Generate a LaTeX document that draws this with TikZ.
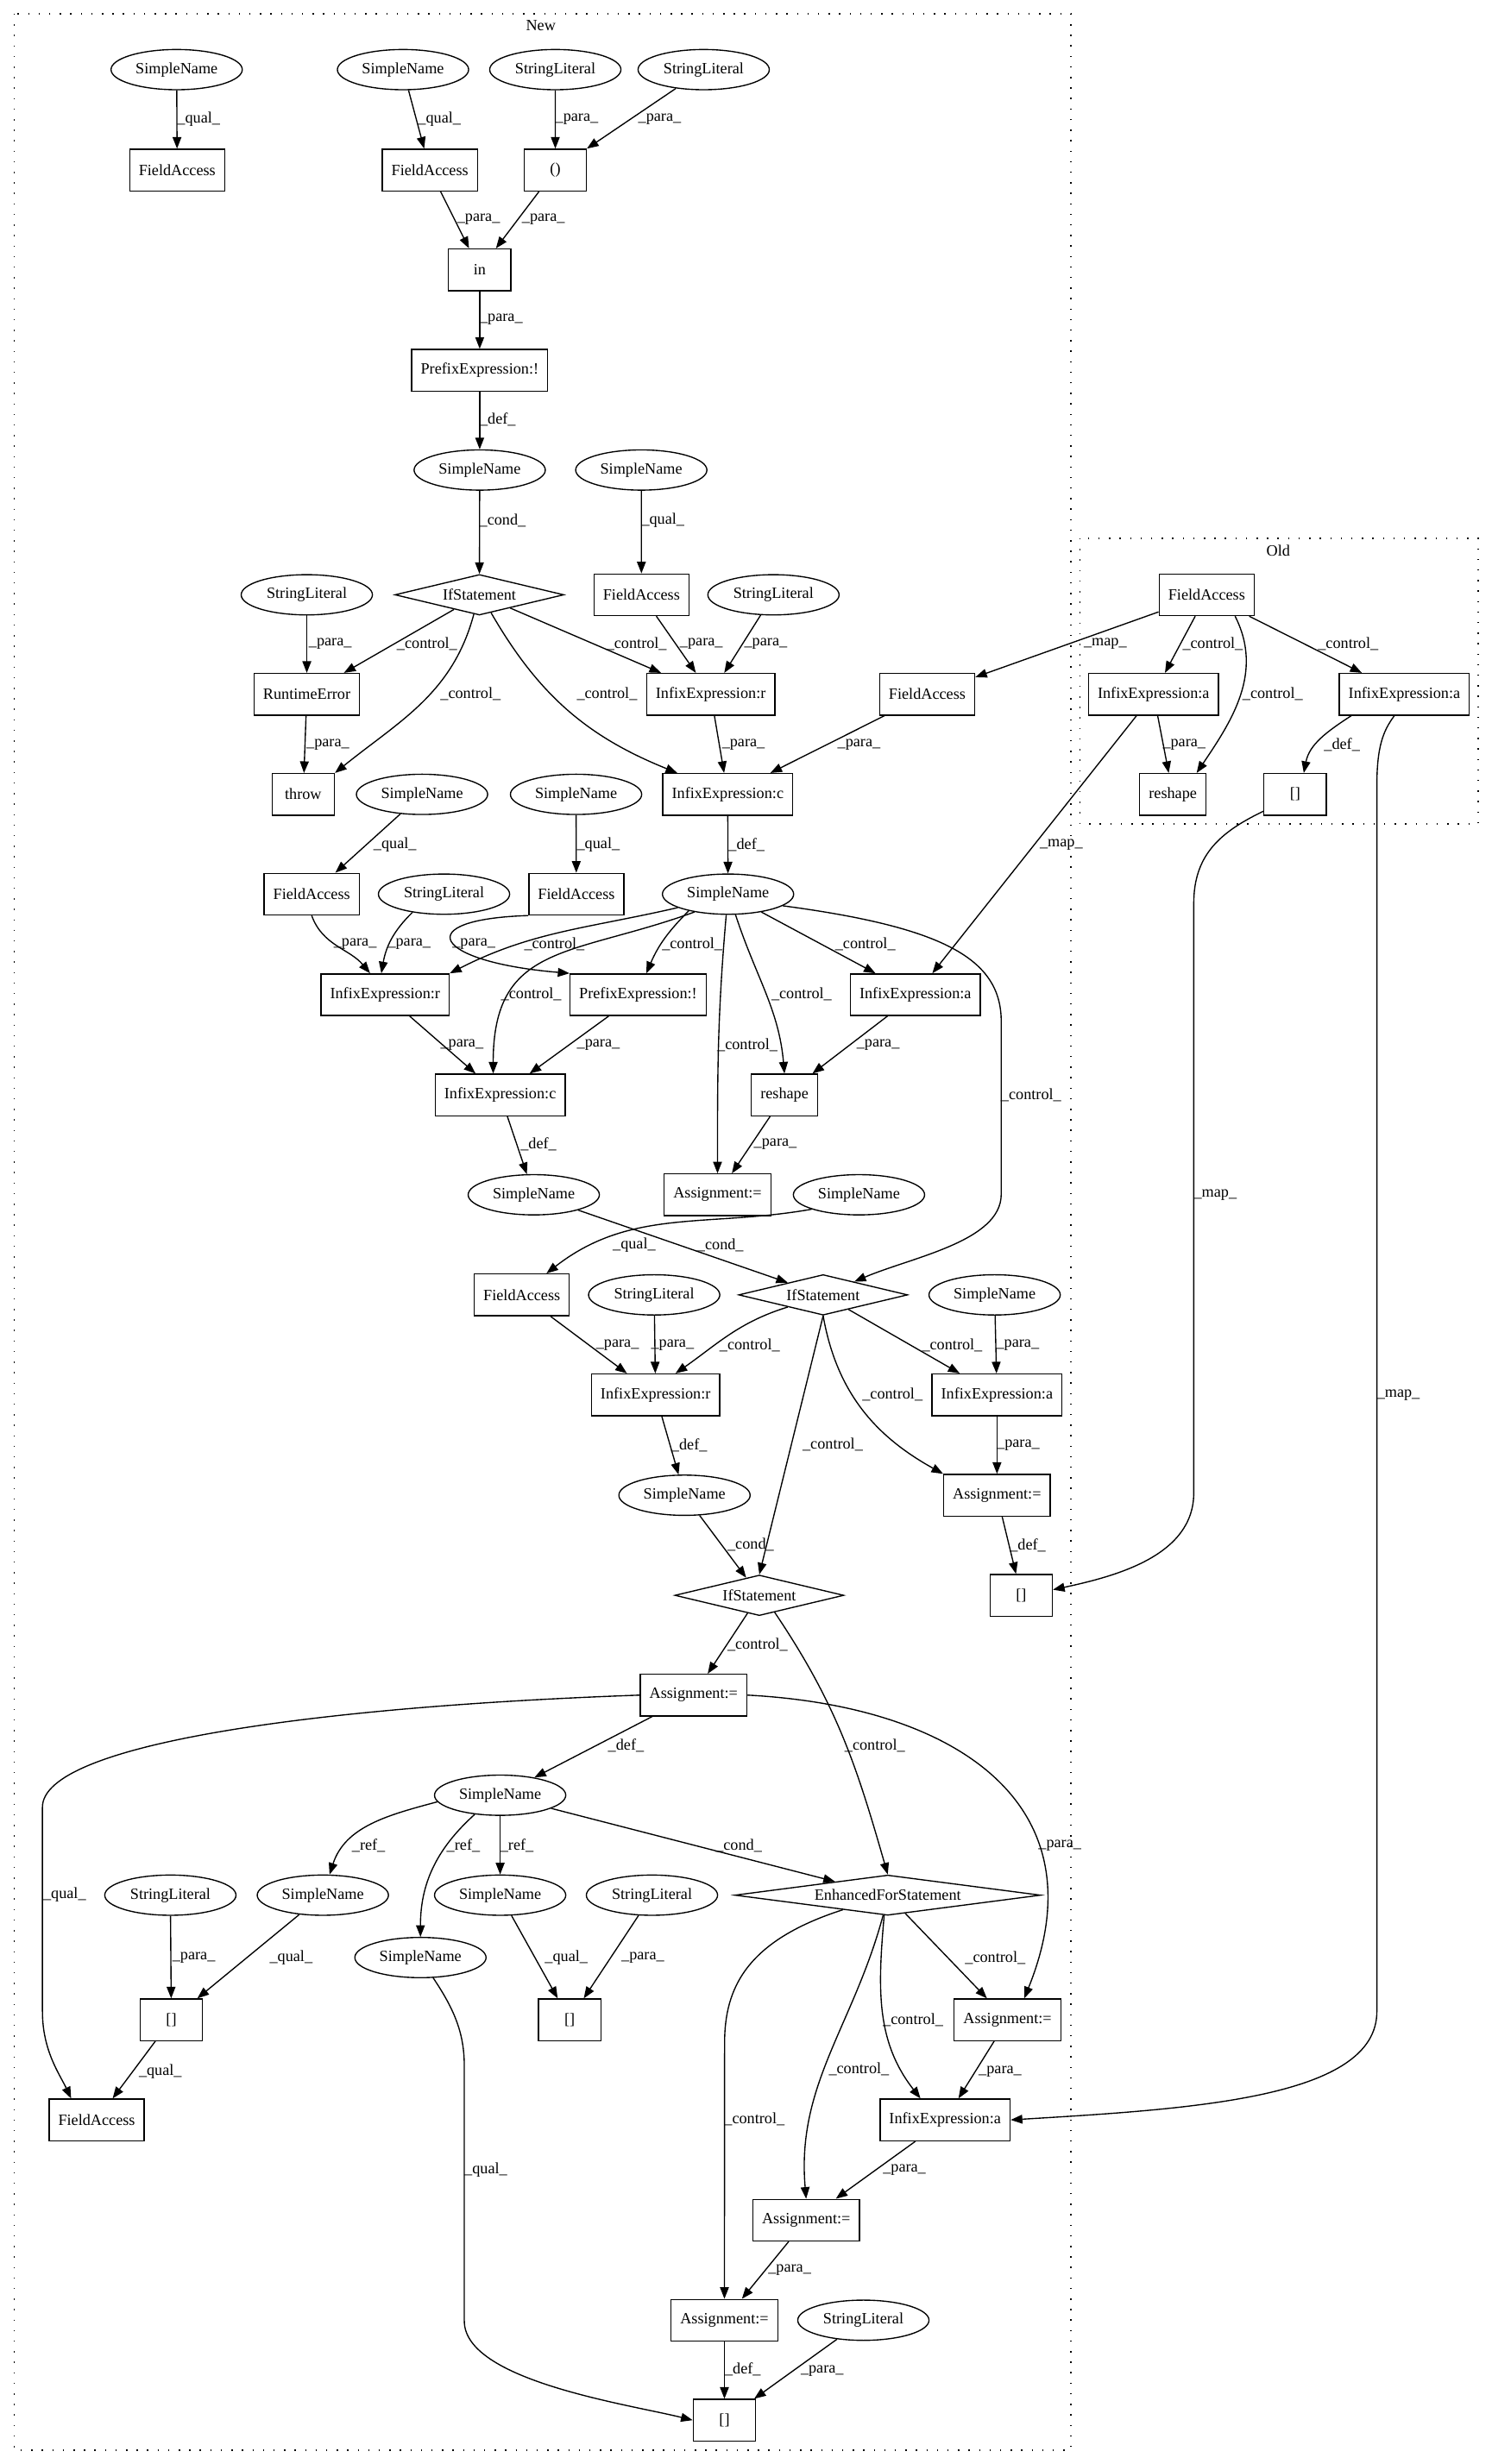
\documentclass[tikz,border=0pt]{standalone}
\usepackage{fontspec}
\setmainfont{Liberation Serif}
\usetikzlibrary{arrows.meta,positioning,shapes.geometric}
\tikzset{
  >={Triangle[length=7.4pt,width=5.6pt]},
  ast/.style={draw, rectangle, minimum width=39.7pt, minimum height=26.5pt, inner xsep=5.8pt, inner ysep=0pt},
  leaf/.style={draw, ellipse, minimum width=83.5pt, minimum height=25.6pt, inner sep=0pt},
  cnd/.style={draw, diamond, aspect=4, minimum width=107.5pt, minimum height=25.8pt, inner sep=0pt},
  lbl/.style={inner sep=0pt},
  grp/.style={line width=0.8pt, dash pattern=on 0.8pt off 5.9pt},
}

\begin{document}
\begin{tikzpicture}[x=1pt, y=-1pt, on grid, line width=0.75pt, font=\fontsize{10}{12}\selectfont]
  \useasboundingbox (0,0) rectangle (949,1568);
  \fill[white] (0,0) rectangle (949,1568);

  % clusters
  \draw[grp] (9.1,8.8) rectangle (681.3,1559.1);
  \draw[grp] (687.1,342.6) rectangle (940.5,524.3);
  \node (newlbl) at (344.1,16.4) {New};
  \node (oldlbl) at (813.3,350.3) {Old};

  % nodes, row by row
  \node[leaf] (sn1) at (112.4,44.3) {SimpleName};
  \node[leaf, right=144pt of sn1] (sn2) {SimpleName};
  \node[leaf, right=96.9pt of sn2] (sl1) {StringLiteral};
  \node[leaf, right=94.4pt of sl1] (sl2) {StringLiteral};
  \node[ast] (fa1) at (112.7,108.2) {FieldAccess};
  \node[ast, right=160.8pt of fa1] (fa2) {FieldAccess};
  \node[ast, right=79.8pt of fa2] (par) {()};
  \node[ast] (inop) at (305.2,171.7) {in};
  \node[ast, below=63.9pt of inop] (pre1) {PrefixExpression:!};
  \node[leaf, below=63.5pt of pre1] (sn3) {SimpleName};
  \node[leaf, right=102.8pt of sn3] (sn4) {SimpleName};

  \node[leaf] (sl3) at (195.2,378.5) {StringLiteral};
  \node[cnd, right=109.8pt of sl3] (if1) {IfStatement};
  \node[ast, right=103.1pt of if1] (fa3) {FieldAccess};
  \node[leaf, right=84pt of fa3] (sl4) {StringLiteral};
  \node[ast, right=275.6pt of sl4] (ofa) {FieldAccess};
  \node[ast, below=63.3pt of sl3] (rte) {RuntimeError};
  \node[ast, right=257pt of rte] (ir1) {InfixExpression:r};
  \node[ast, right=137.7pt of ir1] (fa6) {FieldAccess};
  \node[ast, right=144pt of fa6] (oia1) {InfixExpression:a};
  \node[ast, right=159.6pt of oia1] (oia2) {InfixExpression:a};
  \node[ast] (thr) at (192.9,505.5) {throw};
  \node[leaf, right=75.6pt of thr] (sn5) {SimpleName};
  \node[leaf, right=98pt of sn5] (sn6) {SimpleName};
  \node[ast, right=96.5pt of sn6] (ic1) {InfixExpression:c};
  \node[ast, right=283.2pt of ic1] (ors) {reshape};
  \node[ast, right=77.8pt of ors] (obr) {[]};

  \node[ast] (fa4) at (198.3,569) {FieldAccess};
  \node[leaf, right=84.2pt of fa4] (sl5) {StringLiteral};
  \node[ast, right=84.2pt of sl5] (fa5) {FieldAccess};
  \node[leaf, right=96.5pt of fa5] (sn7) {SimpleName};
  \node[ast] (ir2) at (245,633) {InfixExpression:r};
  \node[ast, right=161pt of ir2] (pe2) {PrefixExpression:!};
  \node[ast, right=176.4pt of pe2] (ia1) {InfixExpression:a};
  \node[ast] (ic2) at (318.2,696.8) {InfixExpression:c};
  \node[ast, right=180.9pt of ic2] (rs) {reshape};
  \node[leaf] (sn8) at (339.6,760.3) {SimpleName};
  \node[ast, right=116.9pt of sn8] (as1) {Assignment:=};
  \node[leaf, right=90pt of as1] (sn9) {SimpleName};
  \node[ast] (fa7) at (332,824) {FieldAccess};
  \node[leaf, right=84.2pt of fa7] (sl6) {StringLiteral};
  \node[cnd, right=107.5pt of sl6] (if2) {IfStatement};
  \node[leaf, right=109.1pt of if2] (sn11) {SimpleName};
  \node[ast] (ir3) at (417.1,887.6) {InfixExpression:r};
  \node[ast, right=217.2pt of ir3] (ia2) {InfixExpression:a};
  \node[leaf] (sn10) at (435.5,951.5) {SimpleName};
  \node[ast, right=198.8pt of sn10] (as2) {Assignment:=};
  \node[cnd] (if3) at (483.1,1015.2) {IfStatement};
  \node[ast, right=166.6pt of if3] (nbr) {[]};
  \node[ast] (as3) at (441.3,1078.7) {Assignment:=};
  \node[leaf] (sn12) at (318.2,1142.4) {SimpleName};

  \node[leaf] (sl7) at (108.4,1206) {StringLiteral};
  \node[leaf, right=97pt of sl7] (sn13) {SimpleName};
  \node[leaf, right=112.8pt of sn13] (sn14) {SimpleName};
  \node[leaf, right=96.6pt of sn14] (sl8) {StringLiteral};
  \node[cnd, aspect=7.6, minimum width=194.6pt, minimum height=25.6pt, right=150pt of sl8] (efs) {EnhancedForStatement};
  \node[leaf] (sn15) at (267.5,1245.7) {SimpleName};
  \node[ast] (br1) at (109,1285.3) {[]};
  \node[ast, right=253.4pt of br1] (br2) {[]};
  \node[ast, right=278.6pt of br2] (as4) {Assignment:=};
  \node[ast] (fa8) at (61.5,1349) {FieldAccess};
  \node[ast, right=539.8pt of fa8] (ia3) {InfixExpression:a};
  \node[ast] (as5) at (512.9,1412.8) {Assignment:=};
  \node[ast] (as6) at (460.9,1476.5) {Assignment:=};
  \node[leaf, right=88.4pt of as6] (sl9) {StringLiteral};
  \node[ast, below=63.6pt of as6] (br4) {[]};

  % edges
  \draw[->] (sn1) -- (fa1) node[lbl] at (126.4,76) {\_qual\_};
  \draw[->] (sn2) -- (fa2) node[lbl] at (279.6,76) {\_qual\_};
  \draw[->] (sl1) -- (par) node[lbl] at (367,76) {\_para\_};
  \draw[->] (sl2) -- (par) node[lbl] at (419.7,76) {\_para\_};
  \draw[->] (fa2) -- (inop) node[lbl] at (304.5,139.7) {\_para\_};
  \draw[->] (par) -- (inop) node[lbl] at (345.7,139.7) {\_para\_};
  \draw[->] (inop) -- (pre1) node[lbl] at (318.9,203.4) {\_para\_};
  \draw[->] (pre1) -- (sn3) node[lbl] at (316.7,267.2) {\_def\_};
  \draw[->] (sn3) -- (if1) node[lbl] at (319.8,331) {\_cond\_};
  \draw[->] (sn4) -- (fa3) node[lbl] at (421.8,331) {\_qual\_};

  \draw[->] (sl3) -- (rte) node[lbl] at (210.1,409.8) {\_para\_};
  \draw[->] (if1) -- (rte) node[lbl] at (271.7,409.8) {\_control\_};
  \draw[->] (if1.-106) to[out=255,in=39] (thr.north east) node[lbl] at (299.4,441.7) {\_control\_};
  \draw[->] (if1.-57) to[out=-60,in=158] (ic1.157) node[lbl] at (386.2,441.7) {\_control\_};
  \draw[->] (if1) -- (ir1) node[lbl] at (405,409.8) {\_control\_};
  \draw[->] (fa3) -- (ir1) node[lbl] at (446.2,409.8) {\_para\_};
  \draw[->] (sl4) -- (ir1) node[lbl] at (487.2,409.8) {\_para\_};
  \draw[->] (rte) -- (thr) node[lbl] at (208.6,473.8) {\_para\_};
  \draw[->] (ir1) -- (ic1) node[lbl] at (473,473.8) {\_para\_};
  \draw[->] (fa6) -- (ic1) node[lbl] at (546.5,473.8) {\_para\_};
  \draw[->] (ic1) -- (sn7) node[lbl] at (475,537.5) {\_def\_};
  \draw[->] (sn5) -- (fa4) node[lbl] at (251.3,537.5) {\_qual\_};
  \draw[->] (sn6) -- (fa5) node[lbl] at (380.7,537.5) {\_qual\_};

  \draw[->] (fa4.south) to[out=-70,in=130] (ir2.125) node[lbl] at (226,600.9) {\_para\_};
  \draw[->] (sl5.210) to[out=224,in=80] (ir2.100) node[lbl] at (260.4,600.9) {\_para\_};
  \draw[->] (fa5.south west) .. controls (260,585) and (275,612) .. (pe2.north west) node[lbl] at (301.5,600.9) {\_para\_};
  \draw[->] (sn7.195) to[out=193,in=27] (ir2.north east) node[lbl] at (352.7,600.9) {\_control\_};
  \draw[->] (sn7.203) to[out=225,in=67] (pe2.69) node[lbl] at (440.4,600.9) {\_control\_};
  \draw[->] (sn7) -- (ia1) node[lbl] at (550.5,600.9) {\_control\_};
  \draw[->] (sn7.208) to[out=200,in=90,looseness=1.3] (ic2.108) node[lbl] at (338,632.9) {\_control\_};
  \draw[->] (sn7.-70) to[out=-72,in=95] (rs.north) node[lbl] at (510,632.9) {\_control\_};
  \draw[->] (sn7.-95) to[out=-95,in=90] (as1.north) node[lbl] at (475.5,664.8) {\_control\_};
  \draw[->] (sn7.-12) .. controls (600,590) and (637,610) .. (637,650) -- (637,760)
    .. controls (637,790) and (580,800) .. (if2.23) node[lbl] at (656,696.8) {\_control\_};
  \draw[->] (ir2) -- (ic2) node[lbl] at (293.9,664.8) {\_para\_};
  \draw[->] (pe2) -- (ic2) node[lbl] at (380.7,664.8) {\_para\_};
  \draw[->] (ia1) -- (rs) node[lbl] at (558.7,664.8) {\_para\_};
  \draw[->] (rs) -- (as1) node[lbl] at (493.3,728.3) {\_para\_};
  \draw[->] (ic2) -- (sn8) node[lbl] at (342.6,728.3) {\_def\_};

  \draw[->] (sn9.197) to[out=190,in=38] (fa7.41) node[lbl] at (403.5,792.4) {\_qual\_};
  \draw[->] (sn8) -- (if2) node[lbl] at (458.3,792.4) {\_cond\_};
  \draw[->] (fa7) -- (ir3) node[lbl] at (392.9,856) {\_para\_};
  \draw[->] (sl6) -- (ir3) node[lbl] at (427.9,856) {\_para\_};
  \draw[->] (if2.199) to[out=197,in=35] (ir3.47) node[lbl] at (477,856) {\_control\_};
  \draw[->] (if2) -- (ia2) node[lbl] at (605.8,856) {\_control\_};
  \draw[->] (sn11) -- (ia2) node[lbl] at (647.5,856) {\_para\_};
  \draw[->] (if2.south) to[out=-80,in=151] (as2.north west) node[lbl] at (567.8,887.6) {\_control\_};
  \draw[->] (if2.south) -- (if3.north) node[lbl] at (529.8,919.5) {\_control\_};
  \draw[->] (ia2) -- (as2) node[lbl] at (647.8,919.5) {\_para\_};
  \draw[->] (ir3) -- (sn10) node[lbl] at (438.5,919.5) {\_def\_};
  \draw[->] (sn10) -- (if3) node[lbl] at (477.6,983.2) {\_cond\_};
  \draw[->] (as2) -- (nbr) node[lbl] at (653.9,983.2) {\_def\_};
  \draw[->] (if3) -- (as3) node[lbl] at (482,1046.7) {\_control\_};
  \draw[->] (if3.-48) to[out=-56,in=106] (efs.north) node[lbl] at (556.6,1110.8) {\_control\_};
  \draw[->] (as3) -- (sn12) node[lbl] at (398.3,1110.8) {\_def\_};
  \draw[->] (as3.west) .. controls (200,1086) and (27,1110) .. (27,1150) -- (27,1280)
    .. controls (27,1305) and (38,1320) .. (fa8.140) node[lbl] at (41.1,1205.9) {\_qual\_};
  \draw[->] (as3.east) to[out=-3,in=68,looseness=1.3] (as4.52) node[lbl] at (674.3,1174.4) {\_para\_};

  \draw[->] (sn12.186) to[out=195,in=72] (sn13.72) node[lbl] at (234.5,1174.4) {\_ref\_};
  \draw[->] (sn12.217) to[out=222,in=90] (sn15.north) node[lbl] at (294.8,1174.4) {\_ref\_};
  \draw[->] (sn12) -- (sn14) node[lbl] at (328.9,1174.4) {\_ref\_};
  \draw[->] (sn12) -- (efs) node[lbl] at (470,1174.4) {\_cond\_};
  \draw[->] (sl7) -- (br1) node[lbl] at (123.3,1245.9) {\_para\_};
  \draw[->] (sn13) -- (br1) node[lbl] at (185.2,1245.9) {\_qual\_};
  \draw[->] (sn14) -- (br2) node[lbl] at (360.3,1245.9) {\_qual\_};
  \draw[->] (sl8) -- (br2) node[lbl] at (409,1245.9) {\_para\_};
  \draw[->] (efs) -- (as4) node[lbl] at (633.2,1245.9) {\_control\_};
  \draw[->] (efs.-100) to[out=-95,in=128] (ia3.139) node[lbl] at (580.9,1285.2) {\_control\_};
  \draw[->] (efs.-103) to[out=-105,in=95] (as5.north) node[lbl] at (546.5,1316.9) {\_control\_};
  \draw[->] (efs.198) .. controls (475,1235) and (461,1265) .. (461,1300) -- (as6.north) node[lbl] at (480,1348.5) {\_control\_};
  \draw[->] (br1) -- (fa8) node[lbl] at (102,1318.3) {\_qual\_};
  \draw[->] (sn15.-58) .. controls (290,1280) and (295.4,1295) .. (295.4,1315) -- (295.4,1477)
    .. controls (295.4,1515) and (400,1530) .. (br4.west) node[lbl] at (309.1,1381) {\_qual\_};
  \draw[->] (as4) -- (ia3) node[lbl] at (636.3,1318.3) {\_para\_};
  \draw[->] (ia3) -- (as5) node[lbl] at (575.4,1381) {\_para\_};
  \draw[->] (as5) -- (as6) node[lbl] at (502.4,1444.8) {\_para\_};
  \draw[->] (as6) -- (br4) node[lbl] at (472.6,1507.7) {\_def\_};
  \draw[->] (sl9) -- (br4) node[lbl] at (523.1,1508.5) {\_para\_};

  % old side
  \draw[->] (ofa) -- (fa6) node[lbl] at (703.2,409.8) {\_map\_};
  \draw[->] (ofa) -- (oia1) node[lbl] at (771.6,409.8) {\_control\_};
  \draw[->] (ofa.-37) to[out=-63,in=56] (ors.42) node[lbl] at (809.7,441.7) {\_control\_};
  \draw[->] (ofa) -- (oia2) node[lbl] at (857.7,409.8) {\_control\_};
  \draw[->] (oia1) -- (ors) node[lbl] at (753.4,473.8) {\_para\_};
  \draw[->] (oia2.202) to[out=213,in=79] (obr.68) node[lbl] at (853.8,473.8) {\_def\_};
  \draw[->] (oia1) -- (ia1) node[lbl] at (675.2,537.5) {\_map\_};
  \draw[->] (obr.208) .. controls (775,530) and (759.5,545) .. (759.5,575) -- (759.5,950)
    .. controls (759.5,990) and (710,1003) .. (nbr.10) node[lbl] at (773.2,760.3) {\_map\_};
  \draw[->] (oia2.-115) .. controls (880,465) and (876,475) .. (876,500) -- (876,1280)
    .. controls (876,1335) and (760,1342) .. (ia3.east) node[lbl] at (889.7,887.6) {\_map\_};
\end{tikzpicture}
\end{document}
